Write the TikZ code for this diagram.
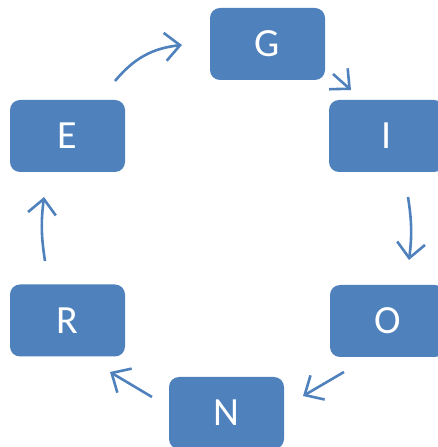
\documentclass[tikz,border=0pt]{standalone}
\usepackage{fontspec}
\setmainfont{Carlito}
\usetikzlibrary{arrows.meta}
\definecolor{smartblue}{HTML}{4F81BD}
\begin{document}
\begin{tikzpicture}[x=1pt,y=1pt,
  letter/.style={rectangle,rounded corners=10pt,fill=smartblue,
    text=white,outer sep=0,minimum width=115pt,
    minimum height=72pt,
    font=\fontsize{40}{48}\selectfont},
  cycle/.style={draw=smartblue,line width=2.6pt,
    -{Straight Barb[length=15pt,width=28pt,line width=2.6pt]}}]
  \clip (0,0) rectangle (438,447);
  \useasboundingbox (0,0) rectangle (438,447);
  \node[letter] (G) at (267.5,403) {G};
  \node[letter] (I) at (386.5,311) {I};
  \node[letter] (O) at (387.5,126) {O};
  \node[letter] (N) at (226.5,34) {N};
  \node[letter] (R) at (67.5,126.5) {R};
  \node[letter] (E) at (67.5,311) {E};
  \coordinate (a1) at (115,366);
  \coordinate (b1) at (182,402);
  \coordinate (a2) at (333,373);
  \coordinate (b2) at (351,357);
  \coordinate (a3) at (408,250);
  \coordinate (b3) at (409,187);
  \coordinate (a4) at (344,75);
  \coordinate (b4) at (303,51);
  \coordinate (a5) at (152,50);
  \coordinate (b5) at (110,75);
  \coordinate (a6) at (45,186);
  \coordinate (b6) at (44,250);
  \draw[cycle] (a1) to[bend left=22] (b1);
  \draw[cycle] (a2) -- (b2);
  \draw[cycle] (a3) to[bend left=8] (b3);
  \draw[cycle] (a4) -- (b4);
  \draw[cycle] (a5) -- (b5);
  \draw[cycle] (a6) to[bend left=8] (b6);
\end{tikzpicture}
\end{document}
